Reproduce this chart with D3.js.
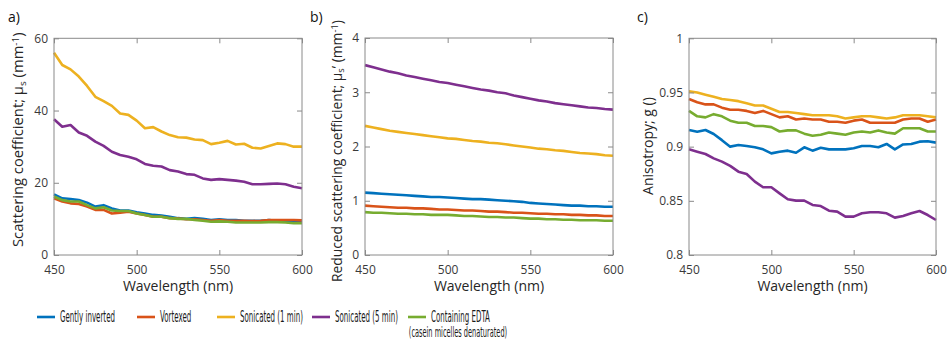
<!DOCTYPE html>
<html><head><meta charset="utf-8">
<script src="https://cdn.jsdelivr.net/npm/d3@7"></script>
<style>body{margin:0;background:#fff}</style>
</head><body><svg id="chart" width="949" height="341"></svg>
<script>
// ---------- data ----------
const wavelengths = [450,455,460,465,470,475,480,485,490,495,500,505,510,515,520,525,530,535,540,545,550,555,560,565,570,575,580,585,590,595,600];
const seriesNames = ["Gently inverted","Vortexed","Sonicated (1 min)","Sonicated (5 min)","Containing EDTA"];
const seriesColors = ["#0072BD","#D95319","#EDB120","#7E2F8E","#77AC30"];

// a) scattering coefficient mu_s (mm^-1)
const musGently   = [16.8,15.7,15.5,15.2,14.5,13.4,13.8,12.9,12.3,12.3,11.8,11.5,11.1,10.9,10.6,10.2,10.0,10.2,10.0,9.7,9.9,9.7,9.7,9.5,9.5,9.5,9.7,9.5,9.4,9.2,9.2];
const musVortexed = [15.7,14.8,14.3,14.1,13.4,12.5,12.5,11.5,11.7,12.0,11.5,11.1,10.6,10.6,10.2,10.1,9.9,9.9,9.7,9.5,9.7,9.5,9.5,9.5,9.4,9.5,9.7,9.7,9.7,9.7,9.6];
const musSon1     = [56.0,52.6,51.4,49.4,46.8,43.8,42.6,41.3,39.2,38.8,37.2,35.1,35.4,34.2,33.2,32.6,32.5,32.0,31.8,30.7,31.1,31.6,30.6,30.8,29.7,29.5,30.2,30.9,30.7,30.0,30.0];
const musSon5     = [37.6,35.5,36.0,33.9,33.0,31.4,30.2,28.6,27.7,27.2,26.5,25.2,24.7,24.5,23.5,23.1,22.4,22.2,21.2,20.8,21.0,20.8,20.6,20.3,19.6,19.6,19.7,19.8,19.6,18.9,18.5];
const musEDTA     = [16.2,15.2,14.8,14.8,13.8,12.9,13.2,12.3,12.2,12.2,11.5,11.1,10.6,10.6,10.2,10.0,10.0,9.7,9.5,9.2,9.3,9.2,9.0,9.0,9.0,9.0,9.1,9.1,9.0,8.8,8.8];

// b) reduced scattering coefficient mu_s' (mm^-1)
const muspGently   = [1.15,1.14,1.13,1.12,1.11,1.10,1.09,1.08,1.07,1.07,1.06,1.05,1.04,1.03,1.03,1.02,1.01,1.00,0.99,0.98,0.96,0.95,0.94,0.93,0.92,0.91,0.91,0.90,0.90,0.89,0.89];
const muspVortexed = [0.91,0.90,0.89,0.88,0.87,0.87,0.86,0.86,0.85,0.84,0.84,0.83,0.82,0.82,0.81,0.80,0.80,0.79,0.78,0.78,0.77,0.76,0.76,0.75,0.75,0.74,0.74,0.73,0.73,0.72,0.72];
const muspSon1     = [2.38,2.35,2.32,2.29,2.27,2.25,2.23,2.21,2.19,2.17,2.15,2.14,2.12,2.10,2.09,2.07,2.06,2.04,2.02,2.00,1.98,1.96,1.95,1.93,1.92,1.90,1.88,1.87,1.86,1.84,1.83];
const muspSon5     = [3.50,3.46,3.42,3.38,3.35,3.31,3.28,3.25,3.22,3.19,3.17,3.14,3.11,3.08,3.05,3.03,3.00,2.98,2.94,2.91,2.88,2.85,2.83,2.80,2.78,2.76,2.74,2.72,2.71,2.69,2.68];
const muspEDTA     = [0.79,0.78,0.78,0.77,0.76,0.76,0.75,0.75,0.74,0.74,0.74,0.73,0.72,0.72,0.71,0.70,0.70,0.69,0.69,0.68,0.67,0.67,0.66,0.66,0.65,0.65,0.64,0.64,0.64,0.63,0.63];

// c) anisotropy g
const gGently   = [0.9154,0.9138,0.9154,0.9117,0.906,0.900,0.9015,0.9006,0.8994,0.8975,0.8938,0.8953,0.8963,0.8944,0.8994,0.8963,0.899,0.8975,0.8975,0.8975,0.8985,0.9006,0.9006,0.8994,0.9025,0.8975,0.902,0.9025,0.9046,0.905,0.9037];
const gVortexed = [0.944,0.941,0.939,0.939,0.936,0.934,0.934,0.933,0.931,0.933,0.930,0.927,0.928,0.925,0.926,0.925,0.925,0.923,0.923,0.922,0.924,0.925,0.922,0.922,0.922,0.922,0.925,0.926,0.926,0.923,0.925];
const gSon1     = [0.951,0.950,0.948,0.946,0.944,0.943,0.942,0.940,0.938,0.938,0.935,0.932,0.932,0.931,0.930,0.929,0.929,0.929,0.928,0.926,0.927,0.928,0.928,0.927,0.926,0.927,0.929,0.929,0.929,0.928,0.927];
const gSon5     = [0.8975,0.8954,0.8932,0.8892,0.8862,0.8822,0.8769,0.8748,0.8677,0.8625,0.8625,0.8569,0.8514,0.8502,0.8502,0.8462,0.8452,0.8409,0.840,0.8354,0.8354,0.8385,0.8394,0.8394,0.8385,0.8345,0.836,0.8385,0.8406,0.8369,0.8323];
const gEDTA     = [0.933,0.928,0.927,0.930,0.928,0.924,0.922,0.922,0.919,0.919,0.918,0.914,0.915,0.915,0.912,0.910,0.911,0.913,0.912,0.911,0.913,0.914,0.913,0.915,0.913,0.912,0.917,0.917,0.917,0.914,0.914];

const xTicks = [450,500,550,600];
const musTicks = [0,20,40,60];
const muspTicks = [0,1,2,3,4];
const gTicks = [0.8,0.85,0.9,0.95,1];
const gTickLabels = ["0.8","0.85","0.9","0.95","1"];

// ---------- drawing ----------
const svg = d3.select("#chart");
const axisFont = "'Open Sans', 'Noto Sans', sans-serif";
const textCol = "#262626";
const tickCol = "#3a3a3a";
const boxCol = "#8a8a8a";

const panels = [
  {tag:"a)", tagX:8, left:54, right:302, top:38.3, bottom:255, domain:[0,60], ticks:musTicks, fmt:d=>String(d),
   data:[musGently,musVortexed,musSon1,musSon5,musEDTA], titleX:18, titleTop:32, titleBottom:247,
   title:[["Scattering coefficient; μ",""],["s","sub"],[" (mm",""],["-1","sup"],[")",""]]},
  {tag:"b)", tagX:310, left:365, right:613, top:38, bottom:255, domain:[0,4], ticks:muspTicks, fmt:d=>String(d),
   data:[muspGently,muspVortexed,muspSon1,muspSon5,muspEDTA], titleX:337, titleTop:20, titleBottom:282,
   title:[["Reduced scattering coefficient; μ",""],["s","sub"],["’ (mm",""],["-1","sup"],[")",""]]},
  {tag:"c)", tagX:637, left:689, right:936, top:38.3, bottom:255, domain:[0.8,1], ticks:gTicks, fmt:d=>gTickLabels[gTicks.indexOf(d)],
   data:[gGently,gVortexed,gSon1,gSon5,gEDTA], titleX:648, titleTop:97, titleBottom:195,
   title:[["Anisotropy; g ()",""]]}
];

panels.forEach(p => {
  const x = d3.scaleLinear().domain([450,600]).range([p.left,p.right]);
  const y = d3.scaleLinear().domain(p.domain).range([p.bottom,p.top]);
  const g = svg.append("g");

  // lines
  const line = d3.line().x((d,i)=>x(wavelengths[i])).y(d=>y(d));
  p.data.forEach((arr,k) => {
    g.append("path").datum(arr).attr("d",line).attr("fill","none")
      .attr("stroke",seriesColors[k]).attr("stroke-width",2.6)
      .attr("stroke-linejoin","round").attr("stroke-linecap","butt");
  });

  // axes
  const styleAxis = sel => {
    sel.select(".domain").remove();
    sel.selectAll(".tick line").attr("stroke",boxCol).attr("stroke-width",1);
    sel.selectAll(".tick text").attr("fill",tickCol).style("font-family",axisFont).style("font-size","12px");
  };
  g.append("g").attr("transform",`translate(${p.left},0)`)
    .call(d3.axisLeft(y).tickValues(p.ticks).tickSize(-5).tickPadding(6).tickFormat(p.fmt)).call(styleAxis);
  g.append("g").attr("transform",`translate(${p.right},0)`)
    .call(d3.axisRight(y).tickValues(p.ticks).tickSize(-5).tickFormat("")).call(styleAxis);
  g.append("g").attr("transform",`translate(0,${p.bottom})`)
    .call(d3.axisBottom(x).tickValues(xTicks).tickSize(-5).tickPadding(10).tickFormat(d=>String(d))).call(styleAxis);
  g.append("g").attr("transform",`translate(0,${p.top})`)
    .call(d3.axisTop(x).tickValues(xTicks).tickSize(-5).tickFormat("")).call(styleAxis);

  g.append("rect").attr("x",p.left).attr("y",p.top).attr("width",p.right-p.left).attr("height",p.bottom-p.top)
    .attr("fill","none").attr("stroke",boxCol).attr("stroke-width",1);

  // x title
  g.append("text").attr("x",(p.left+p.right)/2).attr("y",291).attr("text-anchor","middle")
    .style("font-family",axisFont).style("font-size","14px").attr("fill",textCol).text("Wavelength (nm)");

  // y title: sized to span the reference extent
  const t = g.append("text").attr("text-anchor","start").attr("dy","0.35em")
    .style("font-family",axisFont).style("font-size","14px").attr("fill",textCol);
  p.title.forEach(([s,kind]) => {
    const ts = t.append("tspan").text(s);
    if (kind==="sub") ts.attr("baseline-shift","-25%").style("font-size","9.5px");
    if (kind==="sup") ts.attr("baseline-shift","45%").style("font-size","9.5px");
  });
  const len = t.node().getComputedTextLength();
  const sx = (p.titleBottom - p.titleTop)/len;
  t.attr("transform",`translate(${p.titleX},${p.titleBottom}) rotate(-90) scale(${sx},1)`);

  // panel tag
  svg.append("text").attr("x",p.tagX).attr("y",22).style("font-family",axisFont).style("font-size","14px")
    .attr("fill","#111").text(p.tag);
});

// legend (condensed face)
const legendFont = "'Liberation Sans Narrow', 'DejaVu Sans Condensed', sans-serif";
const legendX = [37,137,217,312,408];
const legY = 317;
const legItems = [];
seriesNames.forEach((name,k) => {
  const lx = legendX[k];
  svg.append("line").attr("x1",lx).attr("x2",lx+18).attr("y1",legY).attr("y2",legY)
    .attr("stroke",seriesColors[k]).attr("stroke-width",2.6);
  const gg = svg.append("g");
  const tx = gg.append("text").attr("dy","0.36em").style("font-family",legendFont).style("font-size","15px")
    .attr("fill","#1a1a1a").text(name);
  legItems.push({gg, tx, x: lx+23});
});
const refLen = legItems[0].tx.node().getComputedTextLength();
const condense = 55/refLen;
legItems.forEach(it => it.gg.attr("transform",`translate(${it.x},${legY}) scale(${condense},1)`));
svg.append("g").attr("transform",`translate(458,${legY+15}) scale(${condense},1)`)
  .append("text").attr("dy","0.36em").attr("text-anchor","middle").style("font-family",legendFont).style("font-size","14px")
  .attr("fill","#1a1a1a").text("(casein micelles denaturated)");
</script></body></html>
